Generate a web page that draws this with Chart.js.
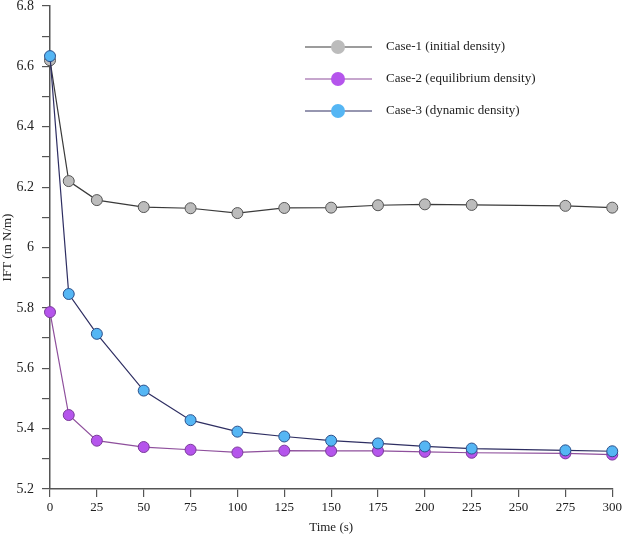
<!DOCTYPE html>
<html>
<head>
<meta charset="utf-8">
<script src="https://cdn.jsdelivr.net/npm/chart.js@4"></script>
<style>
  html, body { margin: 0; padding: 0; background: #fff; }
  .wrap { width: 625px; height: 536px; position: relative; }
</style>
</head>
<body>
<div class="wrap"><canvas id="c" role="img" aria-label="IFT over time for three density cases"></canvas></div>
<script>
// time points (s)
const times = [0, 10, 25, 50, 75, 100, 125, 150, 175, 200, 225, 275, 300];

const case1 = [6.62, 6.22, 6.157, 6.134, 6.13, 6.114, 6.131, 6.132, 6.14, 6.143, 6.141, 6.138, 6.132];
const case2 = [5.786, 5.445, 5.36, 5.339, 5.33, 5.321, 5.327, 5.326, 5.326, 5.323, 5.32, 5.318, 5.314];
const case3 = [6.634, 5.846, 5.714, 5.526, 5.428, 5.39, 5.374, 5.36, 5.351, 5.341, 5.334, 5.328, 5.325];

const labels = ['Case-1 (initial density)', 'Case-2 (equilibrium density)', 'Case-3 (dynamic density)'];

const FONT = 'Liberation Serif, Times New Roman, serif';
const AXIS = '#555';

const pts = arr => arr.map((v, i) => ({ x: times[i], y: v }));

// legend drawn inside the plot, top right
const insideLegend = {
  id: 'insideLegend',
  afterDraw(chart) {
    const ctx = chart.ctx;
    ctx.save();
    ctx.font = '13px ' + FONT;
    ctx.textBaseline = 'middle';
    chart.data.datasets.forEach((ds, i) => {
      const y = 47 + i * 32;
      ctx.strokeStyle = ds.borderColor;
      ctx.lineWidth = 1.2;
      ctx.beginPath(); ctx.moveTo(305, y); ctx.lineTo(372, y); ctx.stroke();
      ctx.fillStyle = ds.pointBackgroundColor;
      ctx.beginPath(); ctx.arc(338, y, 7, 0, Math.PI * 2); ctx.fill();
      ctx.fillStyle = '#222';
      ctx.fillText(ds.label, 386, y);
    });
    ctx.restore();
  }
};

const mk = (i, data, line, fill, border, order) => ({
  label: labels[i], data: pts(data), order, clip: false,
  borderColor: line, borderWidth: 1.2, tension: 0,
  pointRadius: 5.5, pointBackgroundColor: fill, pointBorderColor: border, pointBorderWidth: 1
});

new Chart(document.getElementById('c'), {
  type: 'line',
  data: {
    datasets: [
      mk(0, case1, '#3a3a3a', '#bcbcbc', '#555', 2),
      mk(1, case2, '#8e4f9c', '#b555ec', '#7a3a9a', 1),
      mk(2, case3, '#2e2e62', '#55b6f4', '#2a4f8a', 0)
    ]
  },
  options: {
    responsive: true,
    maintainAspectRatio: false,
    animation: false,
    layout: { autoPadding: false, padding: { top: 0, right: 11, left: 0, bottom: 0 } },
    plugins: { legend: { display: false }, tooltip: { enabled: false } },
    scales: {
      x: {
        type: 'linear', min: 0, max: 300,
        afterFit: s => { s.height = 47; },
        border: { color: AXIS, width: 1.5 },
        grid: { display: true, drawOnChartArea: false, drawTicks: true, tickLength: 8, color: AXIS, lineWidth: 1.2 },
        ticks: { stepSize: 25, color: '#222', font: { size: 13, family: FONT }, padding: 3, maxRotation: 0 },
        title: { display: true, text: 'Time (s)', color: '#222', font: { size: 13, family: FONT }, padding: { top: 4, bottom: 1 } }
      },
      y: {
        min: 5.2, max: 6.8,
        afterFit: s => { s.width = 50; s.paddingTop = 6; },
        border: { color: AXIS, width: 1.5 },
        grid: { display: true, drawOnChartArea: false, drawTicks: true, tickLength: 8, color: AXIS, lineWidth: 1.2 },
        ticks: {
          stepSize: 0.1, color: '#222', font: { size: 14, family: FONT }, padding: 8,
          autoSkip: false,
          callback: v => {
            const k = Math.round(v * 10);
            if (k % 2 !== 0) return '';
            const s = (k / 10).toFixed(1);
            return s === '6.0' ? '6' : s;
          }
        },
        title: { display: true, text: 'IFT (m N/m)', color: '#222', font: { size: 13, family: FONT }, padding: 0 }
      }
    }
  },
  plugins: [insideLegend]
});
</script>
</body>
</html>
